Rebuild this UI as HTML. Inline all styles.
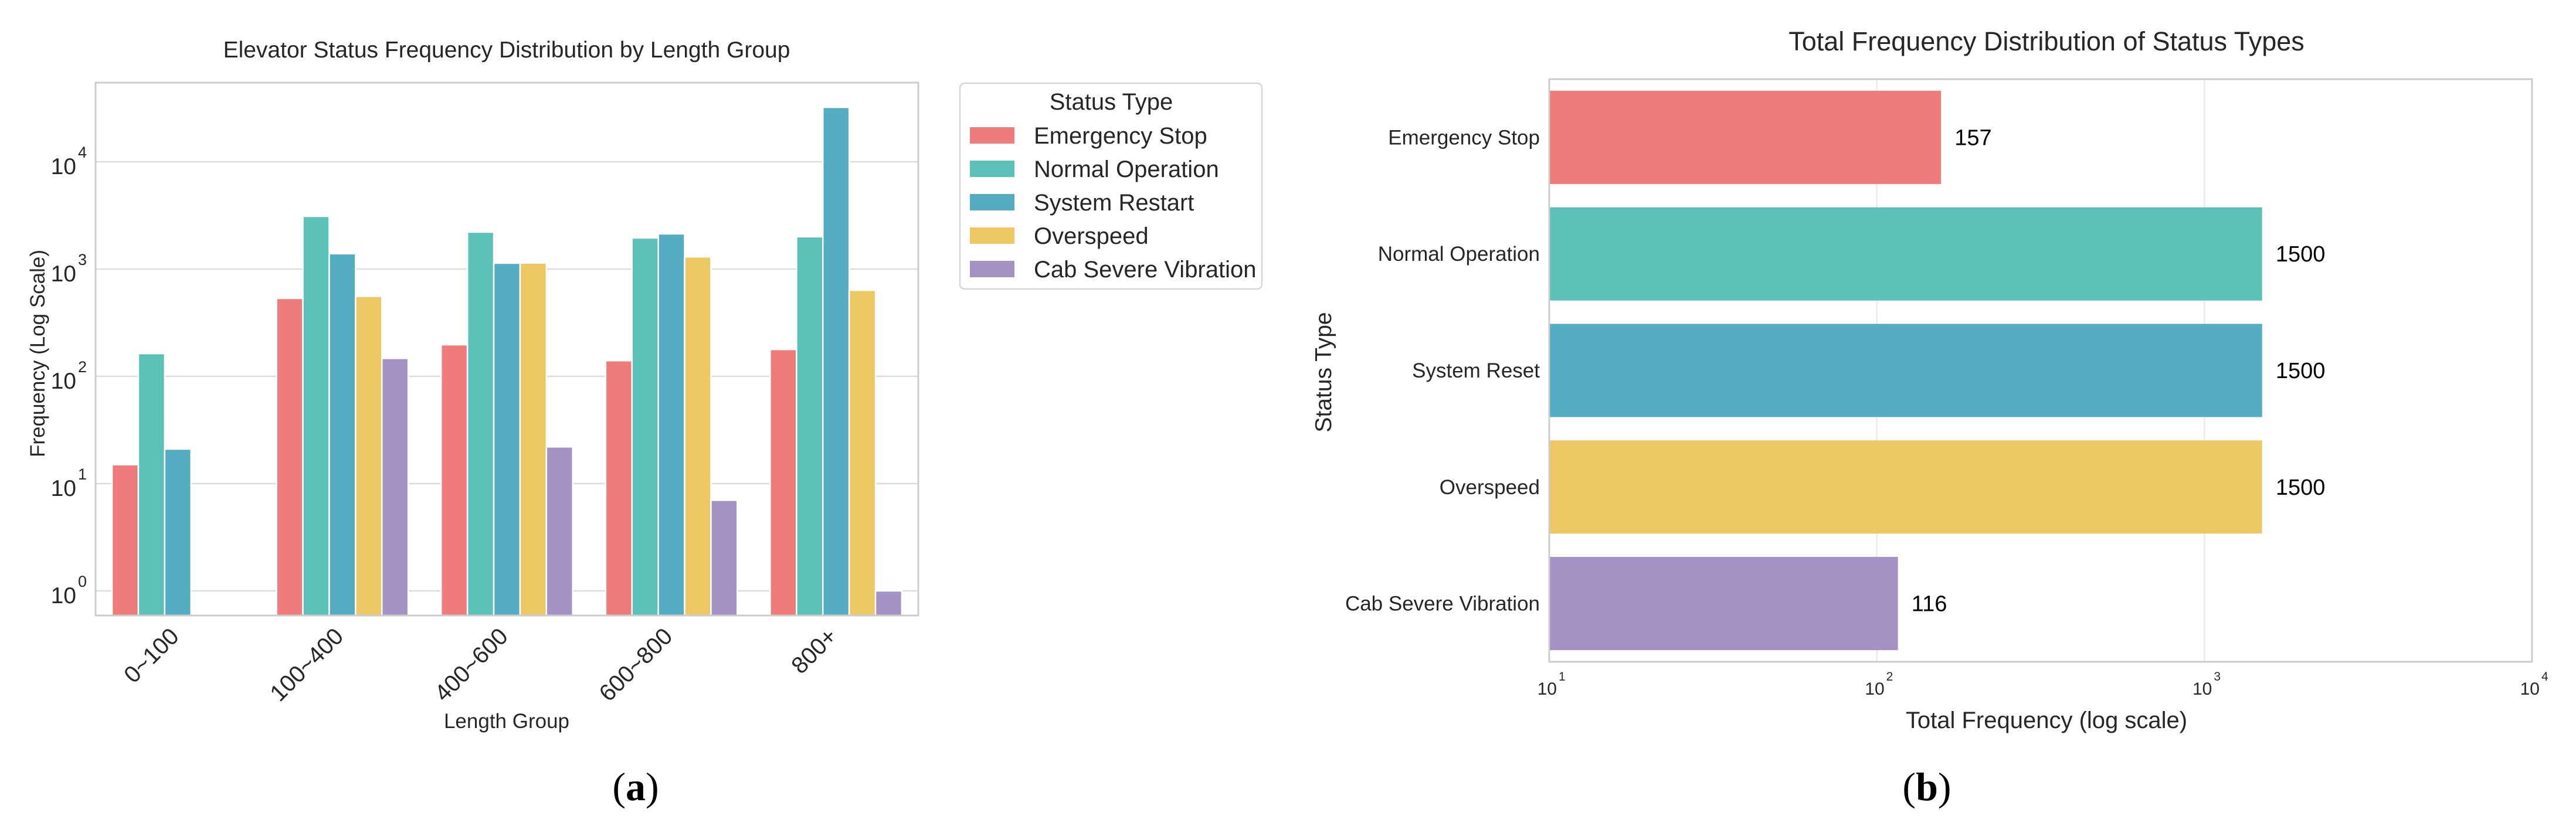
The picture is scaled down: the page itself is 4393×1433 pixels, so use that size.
<!DOCTYPE html>
<html><head><meta charset="utf-8"><style>
html,body{margin:0;padding:0;background:#fff;}
svg{display:block;font-family:"Liberation Sans",Arial,sans-serif;}
</style></head><body>
<svg id="chart" width="4393" height="1433" viewBox="0 0 4393 1433" xmlns="http://www.w3.org/2000/svg">
<rect x="0" y="0" width="4393" height="1433" fill="#fff"/>
<g id="left"></g>
<g id="right"></g>
</svg>
<script>
const groups = ["0~100","100~400","400~600","600~800","800+"];
const statusTypes = ["Emergency Stop","Normal Operation","System Restart","Overspeed","Cab Severe Vibration"];
const seriesEmergencyStop = [15, 533, 197, 140, 178];
const seriesNormalOperation = [163, 3100, 2210, 1950, 2000];
const seriesSystemRestart = [21, 1390, 1135, 2130, 32200];
const seriesOverspeed = [0, 557, 1140, 1300, 635];
const seriesCabVibration = [0, 147, 22, 7, 1];
const leftTickExps = [0, 1, 2, 3, 4];

const totalCategories = ["Emergency Stop","Normal Operation","System Reset","Overspeed","Cab Severe Vibration"];
const totalValues = [157, 1500, 1500, 1500, 116];
const totalLabels = ["157","1500","1500","1500","116"];
const rightTickExps = [1, 2, 3, 4];

const colors = ["#EF7B7B","#5BC0B8","#53ACC2","#ECC764","#A492C5"];
const NS = "http://www.w3.org/2000/svg";
function mk(parent, tag, attrs, text){
  const e = document.createElementNS(NS, tag);
  for (const k in attrs) e.setAttribute(k, attrs[k]);
  if (text !== undefined) e.textContent = text;
  parent.appendChild(e);
  return e;
}
const TXT = "#262626";

/* ---------- LEFT CHART ---------- */
const L = document.getElementById("left");
const lx0 = 163, lx1 = 1566, ly0 = 141, ly1 = 1050;
const yDecade = 183, y10e0 = 1008;
function yLeft(v){ return y10e0 - yDecade * Math.log10(v); }
const catW = (lx1 - lx0) / groups.length;
function xCenter(i){ return lx0 + catW * (i + 0.5); }

let t = mk(L, "text", {x: 864, y: 98, "text-anchor": "middle", "font-size": 39, fill: TXT});


t.textContent = "Elevator Status Frequency Distribution by Length Group";

leftTickExps.forEach(function(e){
  const y = yLeft(Math.pow(10, e));
  const g = mk(L, "line", {x1: lx0, x2: lx1, y1: y, y2: y, stroke: "#dcdcdc", "stroke-width": 2.5});
  
  
  const lab = mk(L, "text", {x: 130, y: y + 21, "text-anchor": "end", "font-size": 39, fill: TXT}, "10");
  
  
  const sup = mk(L, "text", {x: 133, y: y - 7, "font-size": 27, fill: TXT}, String(e));
  
  
});

const allSeries = [seriesEmergencyStop, seriesNormalOperation, seriesSystemRestart, seriesOverspeed, seriesCabVibration];
const barW = catW * 0.8 / statusTypes.length;
allSeries.forEach(function(vals, s){
  vals.forEach(function(v, i){
    if (!(v > 0)) return;
    const x = xCenter(i) - catW * 0.4 + s * barW;
    const yt = Math.max(yLeft(v), ly0);
    const r = mk(L, "rect", {x: x, y: yt, width: barW, height: ly1 - yt, fill: colors[s], stroke: "#fff", "stroke-width": 2.5});
    
    
  });
});

let frame = mk(L, "rect", {x: lx0, y: ly0, width: lx1 - lx0, height: ly1 - ly0, fill: "none", stroke: "#cccccc", "stroke-width": 3});



groups.forEach(function(gname, i){
  const ax = xCenter(i) + 4, ay = 1088;
  const lab = mk(L, "text", {x: ax, y: ay, "text-anchor": "end", "font-size": 40, fill: TXT, transform: "rotate(-45 " + ax + " " + ay + ")"}, gname);
  
  
});

t = mk(L, "text", {x: 864, y: 1242, "text-anchor": "middle", "font-size": 35, fill: TXT}, "Length Group");


t = mk(L, "text", {x: 76, y: 603, "text-anchor": "middle", "font-size": 35, fill: TXT, transform: "rotate(-90 76 603)"}, "Frequency (Log Scale)");



/* legend */
const leg = mk(L, "g", {});


let lb = mk(leg, "rect", {x: 1637, y: 142, width: 515, height: 351, rx: 8, fill: "#fff", stroke: "#d6d6d6", "stroke-width": 2.5});


let lt = mk(leg, "text", {x: 1895, y: 187, "text-anchor": "middle", "font-size": 40, fill: TXT}, "Status Type");


statusTypes.forEach(function(name, s){
  const cy = 231 + s * 57;
  const sw = mk(leg, "rect", {x: 1654, y: cy - 14, width: 76, height: 28, fill: colors[s]});
  
  
  const tx = mk(leg, "text", {x: 1763, y: cy + 14, "font-size": 40, fill: TXT}, name);
  
  
});

t = mk(L, "text", {x: 1084, y: 1365, "text-anchor": "middle", "font-size": 68, fill: "#000", "font-family": "Liberation Serif, serif"});


t.innerHTML = '(<tspan font-weight="bold">a</tspan>)';

/* ---------- RIGHT CHART ---------- */
const R = document.getElementById("right");
const rx0 = 2642, rx1 = 4318, ry0 = 135, ry1 = 1129;
const xDec = (rx1 - rx0) / 3;
function xRight(v){ return rx0 + xDec * (Math.log10(v) - 1); }
const rowH = (ry1 - ry0) / totalCategories.length;
function yRow(i){ return ry0 + rowH * (i + 0.5); }

t = mk(R, "text", {x: 3490, y: 86, "text-anchor": "middle", "font-size": 45, fill: TXT}, "Total Frequency Distribution of Status Types");



rightTickExps.forEach(function(e){
  const x = xRight(Math.pow(10, e));
  const g = mk(R, "line", {x1: x, x2: x, y1: ry0, y2: ry1, stroke: "#e6e6e6", "stroke-width": 2});
  
  
  const lab = mk(R, "text", {x: x + 13, y: 1185, "text-anchor": "end", "font-size": 30, fill: TXT}, "10");
  
  
  const sup = mk(R, "text", {x: x + 16, y: 1161, "font-size": 21, fill: TXT}, String(e));
  
  
});

totalValues.forEach(function(v, i){
  const cy = yRow(i), h = rowH * 0.8;
  const r = mk(R, "rect", {x: rx0, y: cy - h / 2, width: xRight(v) - rx0, height: h, fill: colors[i]});
  
  
  const vl = mk(R, "text", {x: xRight(v * 1.1), y: cy + 13, "font-size": 38, fill: "#000"}, totalLabels[i]);
  
  
  const cl = mk(R, "text", {x: 2626, y: cy + 12, "text-anchor": "end", "font-size": 35, fill: TXT}, totalCategories[i]);
  
  
});

frame = mk(R, "rect", {x: rx0, y: ry0, width: rx1 - rx0, height: ry1 - ry0, fill: "none", stroke: "#cccccc", "stroke-width": 3});



t = mk(R, "text", {x: 3490, y: 1242, "text-anchor": "middle", "font-size": 40, fill: TXT}, "Total Frequency (log scale)");


t = mk(R, "text", {x: 2270, y: 635, "text-anchor": "middle", "font-size": 39, fill: TXT, transform: "rotate(-90 2270 635)"}, "Status Type");



t = mk(R, "text", {x: 3286, y: 1365, "text-anchor": "middle", "font-size": 68, fill: "#000", "font-family": "Liberation Serif, serif"});


t.innerHTML = '(<tspan font-weight="bold">b</tspan>)';
</script>
</body></html>
